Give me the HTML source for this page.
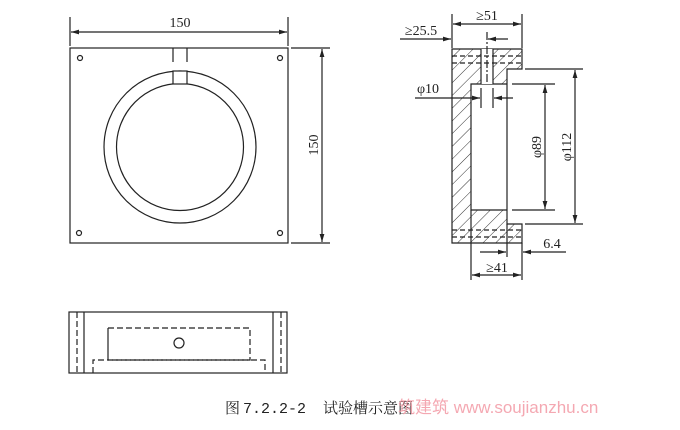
<!DOCTYPE html>
<html><head><meta charset="utf-8"><style>
body{margin:0;background:#fff;width:680px;height:430px;overflow:hidden}
svg{display:block}
text{font-family:"Liberation Serif","Noto Serif CJK SC",serif;fill:#222}
</style></head><body>
<svg width="680" height="430" viewBox="0 0 680 430" xmlns="http://www.w3.org/2000/svg">
<defs>
<marker id="a" viewBox="0 0 10 6" refX="10" refY="3" markerWidth="8" markerHeight="5" orient="auto-start-reverse" markerUnits="userSpaceOnUse"><path d="M0,0L10,3L0,6z" fill="#222"/></marker>
<pattern id="h" patternUnits="userSpaceOnUse" width="9" height="9" patternTransform="rotate(45)"><line x1="0" y1="0" x2="0" y2="9" stroke="#333" stroke-width="1"/></pattern>
</defs>
<g stroke="#222" stroke-width="1.2" fill="none">
<rect x="70" y="48" width="218" height="195"/>
<circle cx="180" cy="147" r="76"/>
<circle cx="180" cy="147" r="63.5"/>
<line x1="173" y1="48" x2="173" y2="62"/><line x1="187" y1="48" x2="187" y2="62"/>
<rect x="173" y="71" width="14" height="13" fill="#fff"/>
<circle cx="80" cy="58" r="2.5"/><circle cx="280" cy="58" r="2.5"/>
<circle cx="79" cy="233" r="2.5"/><circle cx="280" cy="233" r="2.5"/>
<line x1="70" y1="17" x2="70" y2="46"/><line x1="288" y1="17" x2="288" y2="46"/>
<line x1="71" y1="32" x2="287" y2="32" marker-start="url(#a)" marker-end="url(#a)"/>
<line x1="291" y1="48" x2="330" y2="48"/><line x1="291" y1="243" x2="330" y2="243"/>
<line x1="322" y1="49" x2="322" y2="242" marker-start="url(#a)" marker-end="url(#a)"/>
<path d="M452,49H522V69H507V224H522V243H452Z M471,84V210H507V84Z" fill="url(#h)" fill-rule="evenodd"/>
<rect x="481" y="49" width="12" height="35" fill="#fff" stroke="none"/>
<line x1="481" y1="49" x2="481" y2="84"/><line x1="493" y1="49" x2="493" y2="84"/>
<line x1="487" y1="32" x2="487" y2="84" stroke-dasharray="8,2,2,2"/>
<g stroke-dasharray="5,3"><line x1="452" y1="56" x2="522" y2="56"/><line x1="452" y1="63" x2="522" y2="63"/>
<line x1="452" y1="230" x2="522" y2="230"/><line x1="452" y1="237" x2="522" y2="237"/></g>
<line x1="452" y1="14" x2="452" y2="48"/><line x1="522" y1="14" x2="522" y2="48"/>
<line x1="453" y1="24" x2="521" y2="24" marker-start="url(#a)" marker-end="url(#a)"/>
<line x1="400" y1="39" x2="451" y2="39" marker-end="url(#a)"/>
<line x1="508" y1="39" x2="488" y2="39" marker-end="url(#a)"/>
<line x1="415" y1="98" x2="480" y2="98" marker-end="url(#a)"/>
<line x1="513" y1="98" x2="494" y2="98" marker-end="url(#a)"/>
<line x1="481" y1="88" x2="481" y2="108"/><line x1="493" y1="88" x2="493" y2="108"/>
<line x1="512" y1="84" x2="555" y2="84"/><line x1="512" y1="210" x2="555" y2="210"/>
<line x1="545" y1="85" x2="545" y2="209" marker-start="url(#a)" marker-end="url(#a)"/>
<line x1="525" y1="69" x2="583" y2="69"/><line x1="525" y1="224" x2="583" y2="224"/>
<line x1="575" y1="70" x2="575" y2="223" marker-start="url(#a)" marker-end="url(#a)"/>
<line x1="507" y1="224" x2="507" y2="257"/><line x1="522" y1="243" x2="522" y2="280"/>
<line x1="480" y1="252" x2="506" y2="252" marker-end="url(#a)"/>
<line x1="566" y1="252" x2="523" y2="252" marker-end="url(#a)"/>
<line x1="471" y1="210" x2="471" y2="280"/>
<line x1="472" y1="275" x2="521" y2="275" marker-start="url(#a)" marker-end="url(#a)"/>
<rect x="69" y="312" width="218" height="61"/>
<line x1="84" y1="312" x2="84" y2="373"/><line x1="273" y1="312" x2="273" y2="373"/>
<g stroke-dasharray="6,3"><line x1="77" y1="312" x2="77" y2="373"/><line x1="281" y1="312" x2="281" y2="373"/>
<path d="M108,328H250V360H108"/><path d="M93,373V360H265V373"/></g>
<line x1="108" y1="328" x2="108" y2="360"/>
<circle cx="179" cy="343" r="5"/>
</g>
<g font-size="14">
<text x="180" y="27" text-anchor="middle">150</text>
<text transform="translate(318,145) rotate(-90)" text-anchor="middle">150</text>
<text x="487" y="20" text-anchor="middle">≥51</text>
<text x="421" y="35" text-anchor="middle">≥25.5</text>
<text x="428" y="93" text-anchor="middle">φ10</text>
<text transform="translate(541,147) rotate(-90)" text-anchor="middle">φ89</text>
<text transform="translate(571,147) rotate(-90)" text-anchor="middle">φ112</text>
<text x="552" y="248" text-anchor="middle">6.4</text>
<text x="497" y="272" text-anchor="middle">≥41</text>
</g>
<text x="225" y="413" font-size="15">图</text>
<text x="243" y="413" font-size="15" style="font-family:'Liberation Mono',monospace">7.2.2-2</text>
<text x="323" y="413" font-size="15">试验槽示意图</text>
<text x="398" y="413" font-size="17" style="font-family:'Liberation Sans','Noto Sans CJK SC',sans-serif;fill:#f39aa5;opacity:.85">筑建筑 www.soujianzhu.cn</text>
</svg>
</body></html>
